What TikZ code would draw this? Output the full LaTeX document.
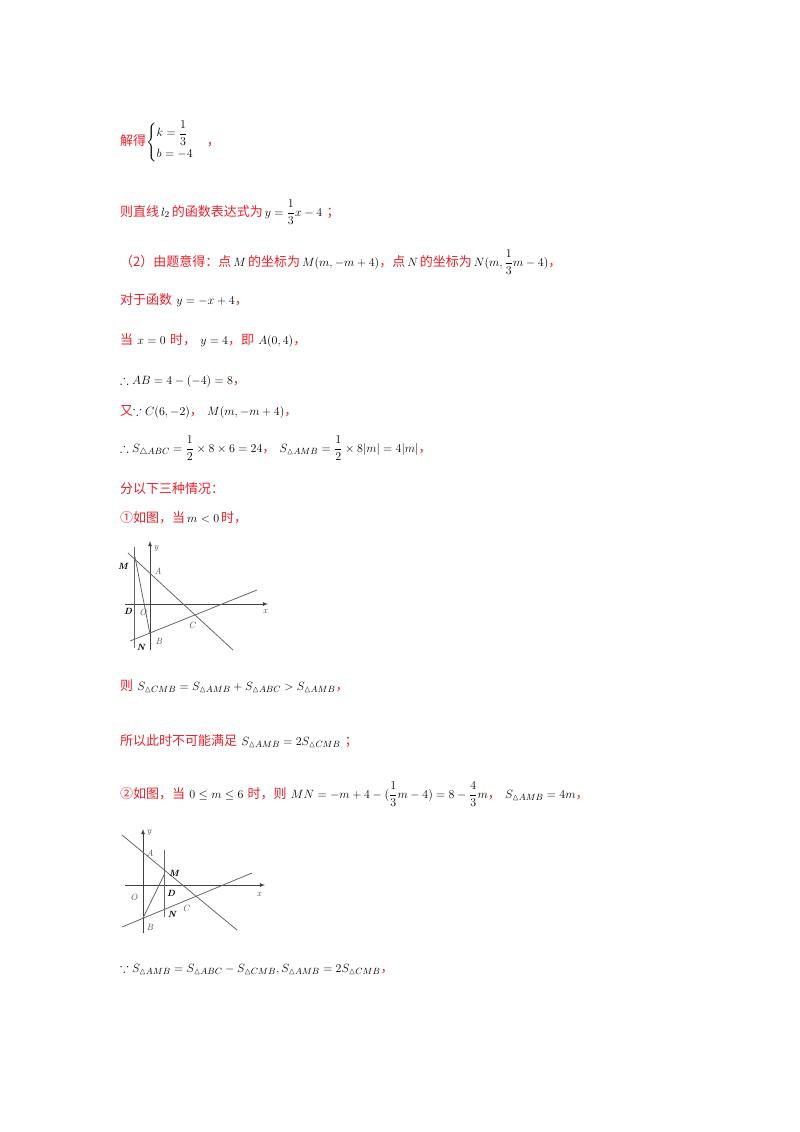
\documentclass[tikz,border=0pt]{standalone}
\usepackage{amsmath,amssymb}
\usepackage{fontspec}
\newfontfamily\cjk{Noto Sans CJK SC}
\definecolor{rd}{HTML}{E8202A}
\newcommand{\zh}[1]{{\cjk\color{rd}#1}}
\newcommand{\ca}{{\cjk\color{rd}，}}
\begin{document}
\begin{tikzpicture}[x=1pt,y=-1pt,
  line/.style={anchor=base west,inner sep=0,font=\fontsize{13}{15}\selectfont},
  ax/.style={draw=black!75,line width=0.8pt,-latex},
  ln/.style={draw=black!60,line width=0.8pt},
  lb/.style={font=\fontsize{9}{10}\selectfont\itshape,inner sep=0,text=black!70},
  bl/.style={font=\fontsize{9}{10}\selectfont\bfseries\itshape,inner sep=0}]
\useasboundingbox (0,0) rectangle (800,1132);
\node[line] (t1) at (120,145) {\zh{解得}$\begin{cases}k=\dfrac13\\[2pt] b=-4\end{cases}$\ca};
\node[line] (t2) at (120,216) {\zh{则直线}$\,l_2\,$\zh{的函数表达式为}$\,y=\dfrac13x-4$ \zh{；}};
\node[line] (t3) at (120,266) {\zh{（2）由题意得：点}$\,M\,$\zh{的坐标为}$\,M(m,-m+4)$\zh{，点}$\,N\,$\zh{的坐标为}$\,N(m,\dfrac13m-4)$\zh{，}};
\node[line] (t4) at (120,304) {\zh{对于函数}$\ y=-x+4$\ca};
\node[line] (t5) at (120,344) {\zh{当}$\ x=0\ $\zh{时，}$\ y=4$\zh{，即}$\ A(0,4)$\ca};
\node[line] (t6) at (120,384) {$\therefore AB=4-(-4)=8$\ca};
\node[line] (t7) at (120,415) {\zh{又}$\because C(6,-2)$\zh{，}$\ M(m,-m+4)$\ca};
\node[line] (t8) at (120,452) {$\therefore S_{\triangle ABC}=\dfrac12\times8\times6=24$\zh{，}$\ S_{\vartriangle AMB}=\dfrac12\times8|m|=4|m|$\ca};
\node[line] (t9) at (120,493) {\zh{分以下三种情况：}};
\node[line] (t10) at (120,522) {\zh{①如图，当}$\,m<0\,$\zh{时，}};
% figure 1
\draw[ax] (125,604) -- (268,604) coordinate (x1);
\draw[ax] (150,650) -- (150,541) coordinate (y1);
\draw[ln] (134,547) -- (134,648);
\draw[ln] (128,553) -- (233,650);
\draw[ln] (130,641) -- (257,590);
\draw[ln] (135,557) -- (150,634);
\node[lb] at (265,612) {x};
\node[lb] at (156,548) {y};
\node[bl] at (123,566) {M};
\node[lb] at (158,571) {A};
\node[bl] at (128,611) {D};
\node[lb] at (143,612) {O};
\node[lb] at (192,625) {C};
\node[lb] at (159,641) {B};
\node[bl] at (141,647) {N};
\node[line] (t11) at (120,690) {\zh{则}$\ S_{\vartriangle CMB}=S_{\vartriangle AMB}+S_{\vartriangle ABC}>S_{\vartriangle AMB}$\ca};
\node[line] (t12) at (120,745) {\zh{所以此时不可能满足}$\ S_{\vartriangle AMB}=2S_{\vartriangle CMB}$ \zh{；}};
\node[line] (t13) at (120,798) {\zh{②如图，当}$\ 0\le m\le6\ $\zh{时，则}$\ MN=-m+4-(\dfrac13m-4)=8-\dfrac43m$\zh{，}$\ S_{\vartriangle AMB}=4m$\ca};
% figure 2
\draw[ax] (125,885) -- (265,885);
\draw[ax] (143,933) -- (143,829);
\draw[ln] (164,850) -- (164,917);
\draw[ln] (122,835) -- (237,930);
\draw[ln] (122,927) -- (252,873);
\draw[ln] (143,918) -- (164,875);
\node[lb] at (259,895) {x};
\node[lb] at (149,832) {y};
\node[lb] at (150,853) {A};
\node[bl] at (174,873) {M};
\node[bl] at (171,893) {D};
\node[lb] at (134,897) {O};
\node[bl] at (172,914) {N};
\node[lb] at (186,908) {C};
\node[lb] at (150,927) {B};
\node[line] (t14) at (120,972) {$\because S_{\vartriangle AMB}=S_{\vartriangle ABC}-S_{\vartriangle CMB},S_{\vartriangle AMB}=2S_{\vartriangle CMB}$\ca};
\end{tikzpicture}
\end{document}
